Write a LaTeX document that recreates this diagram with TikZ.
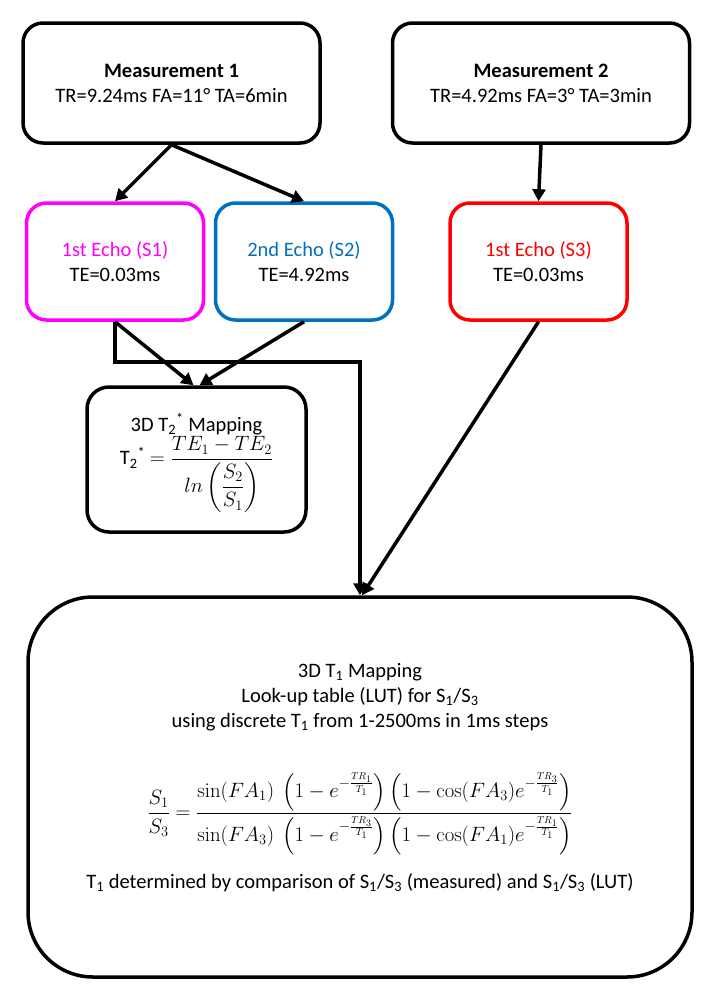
\documentclass[tikz,border=0pt]{standalone}
\usepackage{amsmath}
\usepackage[no-math]{fontspec}
\setmainfont{Carlito}
\usetikzlibrary{arrows.meta}
\definecolor{echoA}{RGB}{255,0,255}
\definecolor{echoB}{RGB}{0,112,192}
\definecolor{echoC}{RGB}{255,0,0}

\begin{document}
\begin{tikzpicture}[x=1pt,y=-1pt,
   every node/.style={font=\fontsize{20.5}{25}\selectfont},
   rbox/.style={draw,line width=3.5pt,rounded corners=20pt,align=center,inner sep=0pt},
   measure/.style={rbox,minimum width=297pt,minimum height=120pt},
   echo/.style={rbox,minimum width=177pt,minimum height=117pt},
   link/.style={line width=3.5pt,-{Triangle[length=12pt,width=13pt]}}]
\useasboundingbox (0,0) rectangle (713,993);
\node[measure] (meas1) at (171.5,83) {\textbf{Measurement 1}\\TR=9.24ms FA=11° TA=6min};
\node[measure] (meas2) at (541,83) {\textbf{Measurement 2}\\TR=4.92ms FA=3° TA=3min};
\node[echo,draw=echoA] (echo1) at (115,261.5) {\textcolor{echoA}{1st Echo (S1)}\\TE=0.03ms};
\node[echo,draw=echoB] (echo2) at (304,261.5) {\textcolor{echoB}{2nd Echo (S2)}\\TE=4.92ms};
\node[echo,draw=echoC] (echo3) at (538.5,261.5) {\textcolor{echoC}{1st Echo (S3)}\\TE=0.03ms};
\node[rbox,minimum width=219pt,minimum height=145pt,rounded corners=22pt] (tmap) at (196.5,459.5) {};
\node[align=center] (tmaptext) at (196.5,463)
   {3D T\textsubscript{2}\textsuperscript{*} Mapping\\[1pt]
    T\textsubscript{2}\textsuperscript{*} $= \dfrac{TE_1 - TE_2}{ln\left(\dfrac{S_2}{S_1}\right)}$};
\node[rbox,minimum width=664pt,minimum height=380pt,rounded corners=65pt] (lmap) at (360,787) {};
\node[align=center] (lmaptext) at (360,777.5)
   {3D T\textsubscript{1} Mapping\\
    Look-up table (LUT) for S\textsubscript{1}/S\textsubscript{3}\\
    using discrete T\textsubscript{1} from 1-2500ms in 1ms steps\\[41pt]
    $\displaystyle \frac{S_1}{S_3} = \frac{\sin(FA_1)\ \left(1-e^{-\frac{TR_1}{T_1}}\right)\left(1-\cos(FA_3)e^{-\frac{TR_3}{T_1}}\right)}
      {\sin(FA_3)\ \left(1-e^{-\frac{TR_3}{T_1}}\right)\left(1-\cos(FA_1)e^{-\frac{TR_1}{T_1}}\right)}$\\[18pt]
    T\textsubscript{1} determined by comparison of S\textsubscript{1}/S\textsubscript{3} (measured) and S\textsubscript{1}/S\textsubscript{3} (LUT)};
\draw[link] (meas1.south) -- (echo1.north);
\draw[link] (meas1.south) -- (echo2.north);
\draw[link] (meas2.south) -- (echo3.north);
\draw[link] (echo1.south) -- ([xshift=-3pt]tmap.north);
\draw[link] (echo2.south) -- ([xshift=3pt]tmap.north);
\draw[link] (echo1.south) -- ++(0,40) -| (lmap.north);
\draw[link] (echo3.south) -- ([xshift=2pt]lmap.north);
\end{tikzpicture}
\end{document}
